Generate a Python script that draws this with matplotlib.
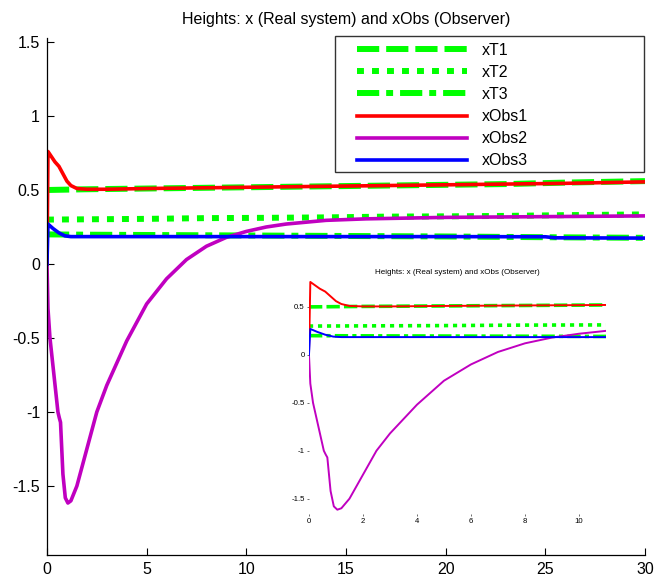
import numpy as np
import matplotlib
matplotlib.use('Agg')
import matplotlib.pyplot as plt
from matplotlib.patches import Rectangle

plt.rcParams['font.family'] = ['Liberation Sans', 'DejaVu Sans']
plt.rcParams['lines.scale_dashes'] = False

TITLE = 'Heights: x (Real system) and xObs (Observer)'

# reference heights (green)
t_ref = [0, 2, 5, 8, 11, 14, 17, 20, 23, 26, 30]
xT1 = [0.50, 0.505, 0.51, 0.515, 0.52, 0.525, 0.53, 0.535, 0.54, 0.55, 0.56]
xT2 = [0.30, 0.302, 0.305, 0.31, 0.312, 0.315, 0.32, 0.322, 0.325, 0.33, 0.335]
xT3 = [0.20, 0.198, 0.196, 0.194, 0.192, 0.19, 0.188, 0.186, 0.183, 0.18, 0.177]

# observer estimates
t_obs1 = [0, 0.05, 0.2, 0.4, 0.6, 0.8, 1.0, 1.2, 1.5, 2.0, 3.0, 5, 8, 11, 14, 17, 20, 23, 26, 30]
xObs1 = [0, 0.76, 0.73, 0.69, 0.66, 0.61, 0.56, 0.53, 0.51, 0.505, 0.505, 0.51,
         0.515, 0.52, 0.525, 0.53, 0.535, 0.54, 0.545, 0.555]

t_obs2 = [0, 0.05, 0.15, 0.35, 0.55, 0.62, 0.68, 0.8, 0.92, 1.05, 1.2, 1.5, 2.0,
          2.5, 3.0, 4.0, 5, 6, 7, 8, 9, 10, 11, 12, 14, 16, 18, 20, 25, 30]
xObs2 = [0, -0.3, -0.5, -0.75, -1.0, -1.04, -1.07, -1.42, -1.58, -1.615, -1.6,
         -1.5, -1.25, -1.0, -0.82, -0.52, -0.27, -0.1, 0.03, 0.12, 0.18, 0.22,
         0.25, 0.27, 0.295, 0.305, 0.31, 0.315, 0.32, 0.325]

t_obs3 = [0, 0.05, 0.3, 0.6, 0.9, 1.2, 5, 10, 15, 20, 25, 25.5, 30]
xObs3 = [0, 0.27, 0.24, 0.21, 0.19, 0.185, 0.185, 0.185, 0.185, 0.185, 0.184, 0.177, 0.175]

GREEN, RED, MAG, BLUE = '#00ff00', '#ff0000', '#c000c0', '#0000ff'


def draw(ax, lw_g, lw_o, scale):
    d1 = [16 * scale, 5 * scale]
    d2 = [5 * scale, 5.8 * scale]
    d3 = [16 * scale, 5 * scale, 5 * scale, 5 * scale]
    ax.plot(t_ref, xT1, color=GREEN, lw=lw_g, dashes=d1, label='xT1')
    ax.plot(t_ref, xT2, color=GREEN, lw=lw_g, dashes=d2, label='xT2')
    ax.plot(t_ref, xT3, color=GREEN, lw=lw_g, dashes=d3, label='xT3')
    ax.plot(t_obs1, xObs1, color=RED, lw=lw_o, label='xObs1')
    ax.plot(t_obs2, xObs2, color=MAG, lw=lw_o, label='xObs2')
    ax.plot(t_obs3, xObs3, color=BLUE, lw=lw_o, label='xObs3')


fig = plt.figure(figsize=(6.56, 5.81), dpi=100)

# ── main axes ─────────────────────────────────────────
ax = fig.add_axes([0.0716, 0.0448, 0.9116, 0.8898])
draw(ax, 4.3, 2.6, 1.0)
ax.set_xlim(0, 30)
ax.set_ylim(-1.966, 1.527)
ax.set_xticks(np.arange(0, 31, 5))
ax.set_yticks([-1.5, -1, -0.5, 0, 0.5, 1, 1.5])
ax.set_yticklabels(['-1.5', '-1', '-0.5', '0', '0.5', '1', '1.5'])
ax.tick_params(direction='in', length=5, width=0.8, labelsize=11.5, pad=5)
for side in ('top', 'right'):
    ax.spines[side].set_visible(False)
for side in ('left', 'bottom'):
    ax.spines[side].set_linewidth(0.9)
ax.set_title(TITLE, fontsize=11.5, pad=10)

# legend box (MATLAB-style wide frame) + entries
box = Rectangle((0.4816, 0.741), 0.5164, 0.263, transform=ax.transAxes,
                facecolor='white', edgecolor='#333333', lw=1.0,
                clip_on=False, zorder=4.8)
ax.add_patch(box)
leg = ax.legend(loc='upper left', bbox_to_anchor=(0.5184, 0.9903),
                fontsize=11.5, handlelength=6.9, handletextpad=0.9,
                labelspacing=0.44, borderpad=0, borderaxespad=0,
                frameon=False)
leg.set_zorder(5)

# ── inset (same chart, shorter span) ──────────────────
ins = fig.add_axes([0.471, 0.1153, 0.4527, 0.406])
draw(ins, 2.6, 1.4, 0.6)
ins.set_xlim(0, 11)
ins.set_ylim(-1.66, 0.8)
ins.set_xticks([0, 2, 4, 6, 8, 10])
ins.set_yticks([-1.5, -1, -0.5, 0, 0.5])
ins.set_yticklabels(['-1.5', '-1', '-0.5', '0', '0.5'])
for sp in ins.spines.values():
    sp.set_visible(False)
ins.tick_params(direction='out', length=1.5, width=0.6, colors='#555555',
                labelsize=5.6, pad=1.5, labelcolor='black')
ins.set_title(TITLE, fontsize=5.8, pad=3)

plt.savefig('out.png', dpi=100)
